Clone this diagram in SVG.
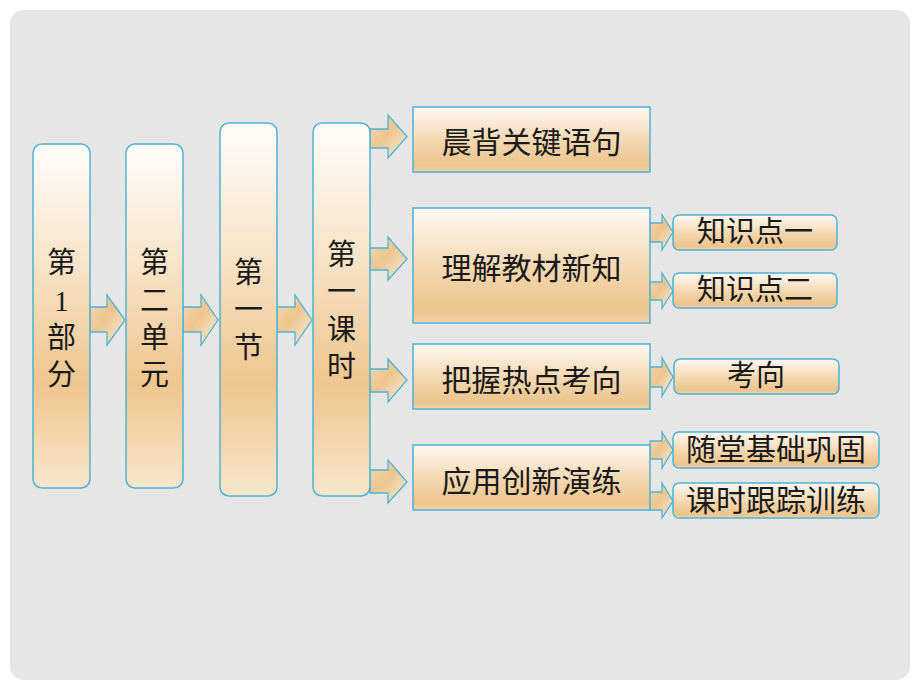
<svg xmlns="http://www.w3.org/2000/svg" width="920" height="690" viewBox="0 0 920 690">
<defs>
<linearGradient id="gV" x1="0" y1="0" x2="0" y2="1">
<stop offset="0" stop-color="#fffdfb"/>
<stop offset="0.35" stop-color="#f8e4c8"/>
<stop offset="0.7" stop-color="#eec58e"/>
<stop offset="1" stop-color="#f8e6cc"/>
</linearGradient>
<linearGradient id="gR" x1="0" y1="0" x2="0" y2="1">
<stop offset="0" stop-color="#fef9f2"/>
<stop offset="0.6" stop-color="#f2d3a8"/>
<stop offset="0.9" stop-color="#ecc48c"/>
<stop offset="1" stop-color="#f2d5ae"/>
</linearGradient>
<linearGradient id="gA" x1="0" y1="0" x2="1" y2="1">
<stop offset="0" stop-color="#f6dcb8"/>
<stop offset="0.45" stop-color="#edc48c"/>
<stop offset="1" stop-color="#fbf0e2"/>
</linearGradient>
</defs>
<style>
.vb{fill:url(#gV);stroke:#4fb3d3;stroke-width:1.5}
.rb{fill:url(#gR);stroke:#4fb3d3;stroke-width:1.5}
.sb{fill:url(#gR);stroke:#4fb3d3;stroke-width:1.5}
.ar{fill:url(#gA);stroke:#4fb3d3;stroke-width:1.3;stroke-linejoin:miter}
.t{font-family:"Liberation Serif","Noto Sans CJK SC",serif;fill:#1a1a1a;text-anchor:middle;dominant-baseline:central}
.tv{font-size:29px}
.tr{font-size:30px}
.ts{font-size:29px}
.tl{font-size:30px}
</style>
<rect x="0" y="0" width="920" height="690" fill="#ffffff"/>
<rect x="10" y="10" width="900" height="670" rx="14" fill="#e6e6e6"/>

<g id="connectors">
<path class="ar" d="M90,307 H107 V295 L125,320 L107,345 V332 H90 Z"/>
<path class="ar" d="M183,307 H201 V295 L218,320 L201,345 V332 H183 Z"/>
<path class="ar" d="M277,307 H295 V295 L312,320 L295,345 V332 H277 Z"/>
<path class="ar" d="M370,129 H388 V115 L407,136.5 L388,158 V148 H370 Z"/>
<path class="ar" d="M370,248 H388 V237 L407,259 L388,280 V270 H370 Z"/>
<path class="ar" d="M370,369 H388 V359 L407,380 L388,402 V392 H370 Z"/>
<path class="ar" d="M370,470 H388 V460 L407,482 L388,503 V493 H370 Z"/>
<path class="ar" d="M650,223 H662 V215 L673,232 L662,250 V242 H650 Z"/>
<path class="ar" d="M650,282 H662 V273 L673,291 L662,308 V300 H650 Z"/>
<path class="ar" d="M650,367 H662 V358 L673,377 L662,396 V387 H650 Z"/>
<path class="ar" d="M650,441 H662 V432 L673,450 L662,468 V459 H650 Z"/>
<path class="ar" d="M650,492 H662 V483 L673,501 L662,518 V510 H650 Z"/>
</g>

<g id="n1">
<rect class="vb" x="33" y="144" width="57" height="344" rx="9"/>
<text class="t tv" x="61.5" y="263">第</text>
<text class="t tv" x="61.5" y="301">1</text>
<text class="t tv" x="61.5" y="338">部</text>
<text class="t tv" x="61.5" y="375">分</text>
</g>
<g id="n2">
<rect class="vb" x="126" y="144" width="57" height="344" rx="9"/>
<text class="t tv" x="154.5" y="263">第</text>
<text class="t tv" x="154.5" y="301">二</text>
<text class="t tv" x="154.5" y="338">单</text>
<text class="t tv" x="154.5" y="375">元</text>
</g>
<g id="n3">
<rect class="vb" x="220" y="123" width="57" height="373" rx="9"/>
<text class="t tv" x="248.5" y="273">第</text>
<text class="t tv" x="248.5" y="310">一</text>
<text class="t tv" x="248.5" y="348">节</text>
</g>
<g id="n4">
<rect class="vb" x="313" y="123" width="57" height="373" rx="9"/>
<text class="t tv" x="341.5" y="255">第</text>
<text class="t tv" x="341.5" y="292">一</text>
<text class="t tv" x="341.5" y="330">课</text>
<text class="t tv" x="341.5" y="367">时</text>
</g>

<g id="r1">
<rect class="rb" x="413" y="107" width="237" height="65"/>
<text class="t tr" x="531.5" y="142">晨背关键语句</text>
</g>
<g id="r2">
<rect class="rb" x="413" y="208" width="237" height="115"/>
<text class="t tr" x="531.5" y="268">理解教材新知</text>
</g>
<g id="r3">
<rect class="rb" x="413" y="344" width="237" height="65"/>
<text class="t tr" x="531.5" y="380">把握热点考向</text>
</g>
<g id="r4">
<rect class="rb" x="413" y="445" width="237" height="65"/>
<text class="t tr" x="531.5" y="481">应用创新演练</text>
</g>

<g id="s1">
<rect class="sb" x="673" y="215" width="164" height="35" rx="6"/>
<text class="t ts" x="755" y="232">知识点一</text>
</g>
<g id="s2">
<rect class="sb" x="673" y="273" width="164" height="35" rx="6"/>
<text class="t ts" x="755" y="290">知识点二</text>
</g>
<g id="s3">
<rect class="sb" x="674" y="359" width="165" height="35" rx="6"/>
<text class="t ts" x="756" y="376">考向</text>
</g>
<g id="s4">
<rect class="sb" x="673" y="432" width="206" height="36" rx="6"/>
<text class="t tl" x="776" y="449">随堂基础巩固</text>
</g>
<g id="s5">
<rect class="sb" x="673" y="483" width="206" height="35" rx="6"/>
<text class="t tl" x="776" y="500">课时跟踪训练</text>
</g>
</svg>
